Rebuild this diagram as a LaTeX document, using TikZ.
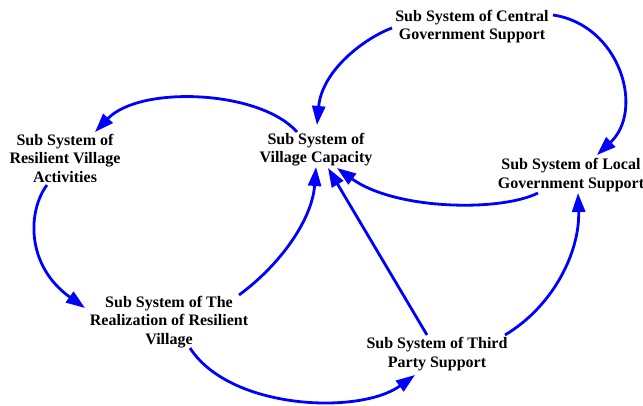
\documentclass[tikz,border=0pt]{standalone}
\usepackage{fontspec}
\setmainfont{Liberation Serif}
\usetikzlibrary{arrows.meta}
\definecolor{arrowblue}{RGB}{0,0,255}
\begin{document}
\begin{tikzpicture}[x=1pt,y=1pt,
  label/.style={align=center,inner sep=0pt,font=\fontsize{16}{18.5}\selectfont\bfseries,text=black},
  link/.style={draw=arrowblue,line width=2.8pt,-{Triangle[length=19pt,width=13pt]}}]
\useasboundingbox (0,0) rectangle (643,-406);
\node[label] (vc) at (316,-149.5) {Sub System of\\Village Capacity};
\node[label] (rva) at (65,-158) {Sub System of\\Resilient Village\\Activities};
\node[label] (cg) at (472,-26.5) {Sub System of Central\\Government Support};
\node[label] (lg) at (571,-175) {Sub System of Local\\Government Support};
\node[label] (rr) at (169,-322) {Sub System of The\\Realization of Resilient\\Village};
\node[label] (tp) at (437,-354) {Sub System of Third\\Party Support};
% VC -> RVA
\draw[link] ([shift={(-19,17.5)}]vc.center) .. controls (260,-90) and (140,-85) .. ([shift={(30,26)}]rva.center);
% RVA -> Realization
\draw[link] ([shift={(-18,-27)}]rva.center) .. controls (28,-210) and (25,-265) .. ([shift={(-84,14)}]rr.center);
% Realization -> VC
\draw[link] ([shift={(70,27)}]rr.center) .. controls (280,-265) and (312,-220) .. ([shift={(0,-17.5)}]vc.center);
% Realization -> Third
\draw[link] ([shift={(21,-26)}]rr.center) .. controls (230,-410) and (360,-415) .. ([shift={(-22,-21)}]tp.center);
% Third -> VC
\draw[link] ([shift={(-10,19)}]tp.center) -- ([shift={(12,-18.5)}]vc.center);
% Third -> Local
\draw[link] ([shift={(68,19)}]tp.center) .. controls (555,-305) and (580,-250) .. ([shift={(7,-18)}]lg.center);
% Local -> VC
\draw[link] ([shift={(-33,-18)}]lg.center) .. controls (500,-212) and (395,-210) .. ([shift={(21,-18.5)}]vc.center);
% Central -> VC
\draw[link] ([shift={(-80,-1.5)}]cg.center) .. controls (365,-38) and (322,-70) .. ([shift={(1,24.5)}]vc.center);
% Central -> Local
\draw[link] ([shift={(81,11.5)}]cg.center) .. controls (620,-25) and (645,-110) .. ([shift={(26,20)}]lg.center);
\end{tikzpicture}
\end{document}
